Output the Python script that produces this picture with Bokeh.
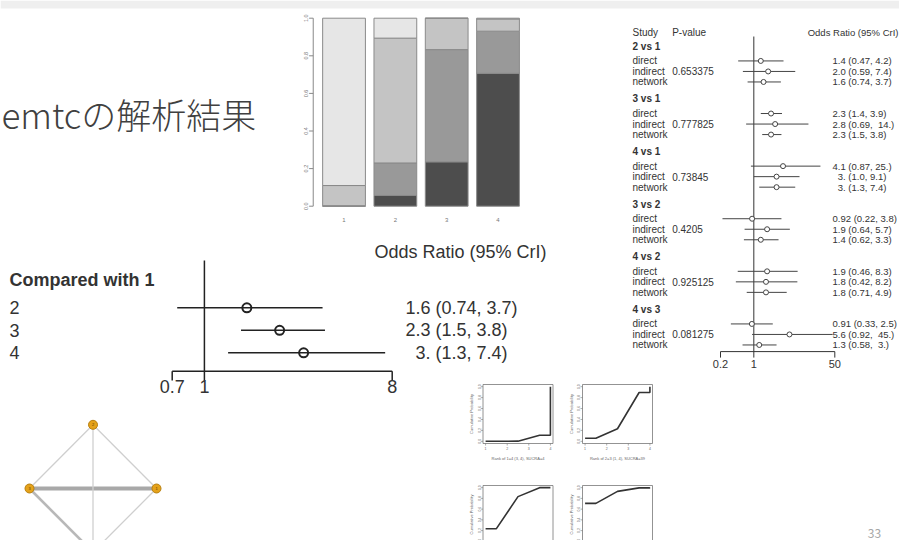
import numpy as np
from bokeh.plotting import figure
from bokeh.models import Range1d, LogScale, LinearScale, CoordinateMapping, BoxAnnotation
from bokeh.core.properties import value
from bokeh.embed import file_html
from bokeh.resources import INLINE

# ---------------- data ----------------
title_text = "emtcの解析結果"
page_number = "33"

# rank probabilities per treatment (rows = rank 1..4)
treatments = ["1", "2", "3", "4"]
rank_prob_1 = [0.000, 0.057, 0.236, 0.707]
rank_prob_2 = [0.003, 0.173, 0.597, 0.224]
rank_prob_3 = [0.107, 0.664, 0.167, 0.065]
rank_prob_4 = [0.890, 0.106, 0.000, 0.004]
rank_colors = ["#4d4d4d", "#999999", "#c4c4c4", "#e6e6e6"]
bar_yticks = [0.0, 0.2, 0.4, 0.6, 0.8, 1.0]

# cumulative rank plots
cum_curve_x = [1, 1.5, 2.5, 3.5, 4, 4]
cum_xticks = [1, 2, 3, 4]
cum_yticks = [0.0, 0.2, 0.4, 0.6, 0.8, 1.0]
cum_titles = ["Rank of 1=4 (3, 4), SUCRA=4", "Rank of 2=3 (1, 4), SUCRA=39",
              "Rank of 3=2 (1, 3), SUCRA=69", "Rank of 4=1 (1, 3), SUCRA=88"]

# node-splitting forest plot
comparisons = ["2 vs 1", "3 vs 1", "4 vs 1", "3 vs 2", "4 vs 2", "4 vs 3"]
evidence = ["direct", "indirect", "network"]
p_values = ["0.653375", "0.777825", "0.73845", "0.4205", "0.925125", "0.081275"]
ns_est = [[1.4, 2.0, 1.6], [2.3, 2.8, 2.3], [4.1, 3.0, 3.0],
          [0.92, 1.9, 1.4], [1.9, 1.8, 1.8], [0.91, 5.6, 1.3]]
ns_lo = [[0.47, 0.59, 0.74], [1.4, 0.69, 1.5], [0.87, 1.0, 1.3],
         [0.22, 0.64, 0.62], [0.46, 0.42, 0.71], [0.33, 0.92, 0.58]]
ns_hi = [[4.2, 7.4, 3.7], [3.9, 14.0, 3.8], [25.0, 9.1, 7.4],
         [3.8, 5.7, 3.3], [8.3, 8.2, 4.9], [2.5, 45.0, 3.0]]
ns_text = [["1.4 (0.47, 4.2)", "2.0 (0.59, 7.4)", "1.6 (0.74, 3.7)"],
           ["2.3 (1.4, 3.9)", "2.8 (0.69,  14.)", "2.3 (1.5, 3.8)"],
           ["4.1 (0.87, 25.)", " 3. (1.0, 9.1)", " 3. (1.3, 7.4)"],
           ["0.92 (0.22, 3.8)", "1.9 (0.64, 5.7)", "1.4 (0.62, 3.3)"],
           ["1.9 (0.46, 8.3)", "1.8 (0.42, 8.2)", "1.8 (0.71, 4.9)"],
           ["0.91 (0.33, 2.5)", "5.6 (0.92,  45.)", "1.3 (0.58,  3.)"]]
ns_ticks = [0.2, 1, 50]

# "compared with 1" forest plot
cmp_labels = ["2", "3", "4"]
cmp_est = [1.6, 2.3, 3.0]
cmp_lo = [0.74, 1.5, 1.3]
cmp_hi = [3.7, 3.8, 7.4]
cmp_text = ["1.6 (0.74, 3.7)", "2.3 (1.5, 3.8)", " 3. (1.3, 7.4)"]
cmp_ticks = [0.7, 1, 8]

# network
net_nodes = ["1", "2", "3", "4"]
edge_a = ["1", "1", "1", "2", "2", "3"]
edge_b = ["2", "3", "4", "3", "4", "4"]
edge_n = [1, 3, 1, 1, 1, 2]

# ---------------- figure ----------------
p = figure(width=899, height=540, x_range=Range1d(0, 899), y_range=Range1d(540, 0),
           output_backend="svg", toolbar_location=None, min_border=0,
           x_axis_location=None, y_axis_location=None)
p.grid.visible = False
p.outline_line_color = None
p.background_fill_color = "white"
p.add_layout(BoxAnnotation(top=0, bottom=8, fill_color="#efefef", fill_alpha=1, line_color=None))

ARIAL = value("Liberation Sans")


def fix(s):
    s = s.replace("  ", " \u00a0")
    if s.startswith(" "):
        s = "\u2007" + s[1:]
    return s


class Sub:
    def __init__(self, xs, xt, ys, yt, xlog=False):
        self.cm = CoordinateMapping(
            x_source=Range1d(*xs), x_target=Range1d(*xt),
            y_source=Range1d(*ys), y_target=Range1d(*yt),
            x_scale=LogScale() if xlog else LinearScale(), y_scale=LinearScale())

    def __getattr__(self, name):
        fn = getattr(p, name)

        def call(*a, **k):
            r = fn(*a, **k)
            r.coordinates = self.cm
            return r
        return call


# title
p.text(x=[1], y=[113], text=[title_text], text_font=value("Noto Sans CJK JP Light, Noto Sans CJK JP"),
       text_font_size="35px", text_color="#404040", text_baseline="middle")

# page number
p.text(x=[874], y=[533], text=[page_number], text_font=value("Noto Sans CJK JP"),
       text_font_size="12px", text_color="#a6a6a6", text_align="center", text_baseline="middle")

# ---------------- stacked bar chart ----------------
bars = Sub((0, 5), (292.2, 548.85), (0, 1), (205.7, 17.7))
probs_by_rank = [rank_prob_1, rank_prob_2, rank_prob_3, rank_prob_4]
bx, bb, bt, bc = [], [], [], []
for ti in range(len(treatments)):
    base = 0.0
    for r in range(4):
        v = probs_by_rank[r][ti]
        bx.append(ti + 1); bb.append(base); bt.append(base + v); bc.append(rank_colors[r])
        base += v
bars.vbar(x=bx, width=0.833, bottom=bb, top=bt, fill_color=bc, line_color="#8a8a8a", line_width=1)
bars.segment(x0=[0.40], y0=[0], x1=[0.40], y1=[1], line_color="#888888", line_width=1)
bars.segment(x0=[0.40] * len(bar_yticks), y0=bar_yticks, x1=[0.32] * len(bar_yticks), y1=bar_yticks,
             line_color="#888888", line_width=1)
bars.text(x=[0.26] * len(bar_yticks), y=bar_yticks, text=[f"{t:.1f}" for t in bar_yticks],
          angle=np.pi / 2, text_align="center", text_baseline="middle",
          text_font=ARIAL, text_font_size="5.5px", text_color="#777777")
bars.text(x=[1, 2, 3, 4], y=[-0.071] * 4, text=treatments, text_align="center", text_baseline="middle",
          text_font=ARIAL, text_font_size="6px", text_color="#777777")

# ---------------- node-splitting forest plot ----------------
rows_y = (0, 30)
rows_t = (45.7, 361.3)
rf = Sub((0.2, 50), (720, 834.3), rows_y, rows_t, xlog=True)
rt = Sub((0, 1000), (0, 1000), rows_y, rows_t)
ev_off = [1.4, 2.4, 3.4]
hdr_y = [5 * g for g in range(len(comparisons))]
pt_x, pt_y, lo, hi, lab_y, ev_t, ort = [], [], [], [], [], [], []
for g in range(len(comparisons)):
    for e in range(3):
        y = 5 * g + ev_off[e]
        pt_x.append(ns_est[g][e]); pt_y.append(y)
        lo.append(ns_lo[g][e]); hi.append(ns_hi[g][e])
        ev_t.append(evidence[e]); lab_y.append(y); ort.append(fix(ns_text[g][e]))
axis_y = 29.03
rf.segment(x0=[1], y0=[-0.92], x1=[1], y1=[axis_y], line_color="#333333", line_width=1)
rf.segment(x0=lo, y0=pt_y, x1=hi, y1=pt_y, line_color="#444444", line_width=1)
rf.scatter(x=pt_x, y=pt_y, marker="circle", size=5, fill_color="white", line_color="#444444", line_width=1)
rf.segment(x0=[ns_ticks[0]], y0=[axis_y], x1=[ns_ticks[-1]], y1=[axis_y], line_color="#333333", line_width=1)
rf.segment(x0=ns_ticks, y0=[axis_y] * 3, x1=ns_ticks, y1=[29.6] * 3, line_color="#333333", line_width=1)
rf.text(x=ns_ticks, y=[30.25] * 3, text=["0.2", "1", "50"], text_align="center", text_baseline="middle",
        text_font=ARIAL, text_font_size="11px", text_color="#333333")
common = dict(text_font=ARIAL, text_font_size="10px", text_color="#333333", text_baseline="middle")
rt.text(x=[632, 671.7], y=[-1.33] * 2, text=["Study", "P-value"], **common)
rt.text(x=[898], y=[-1.33], text=["Odds Ratio (95% CrI)"], text_align="right",
        text_font=ARIAL, text_font_size="9.5px", text_color="#333333", text_baseline="middle")
rt.text(x=[632] * len(comparisons), y=hdr_y, text=comparisons, text_font_style="bold", **common)
rt.text(x=[632] * len(ev_t), y=lab_y, text=ev_t, **common)
rt.text(x=[671.7] * len(p_values), y=[5 * g + ev_off[1] for g in range(len(comparisons))], text=p_values, **common)
rt.text(x=[832] * len(ort), y=lab_y, text=ort, text_font=ARIAL, text_font_size="9.5px",
        text_color="#333333", text_baseline="middle")

# ---------------- compared with 1 forest ----------------
mf = Sub((0.7, 8), (171.7, 391.7), (0, 4), (284.8, 374.8), xlog=True)
mt = Sub((0, 1000), (0, 1000), (0, 4), (284.8, 374.8))
rows = [1, 2, 3]
m_axis = 3.82
mf.segment(x0=[1], y0=[-1.1], x1=[1], y1=[m_axis], line_color="#222222", line_width=1.5)
mf.segment(x0=cmp_lo, y0=rows, x1=cmp_hi, y1=rows, line_color="#222222", line_width=1.5)
mf.scatter(x=cmp_est, y=rows, marker="circle", size=9, fill_color=None, line_color="#222222", line_width=2)
mf.segment(x0=[cmp_ticks[0]], y0=[m_axis], x1=[cmp_ticks[-1]], y1=[m_axis], line_color="#222222", line_width=1.5)
mf.segment(x0=cmp_ticks, y0=[m_axis] * 3, x1=cmp_ticks, y1=[4.23] * 3, line_color="#222222", line_width=1.5)
big = dict(text_font=ARIAL, text_font_size="18px", text_color="#333333", text_baseline="middle")
mf.text(x=cmp_ticks, y=[4.48] * 3, text=["0.7", "1", "8"], text_align="center", **big)
mt.text(x=[9], y=[-0.24], text=["Compared with 1"], text_font_style="bold", **big)
mt.text(x=[9] * 3, y=rows, text=cmp_labels, **big)
mt.text(x=[405] * 3, y=rows, text=[fix(t) for t in cmp_text], **big)
mt.text(x=[374], y=[-1.47], text=["Odds Ratio (95% CrI)"], **big)

# ---------------- network plot ----------------
net = Sub((-1, 1), (29, 156), (-1, 1), (551.7, 424.3))
ang = {n: 2 * np.pi * i / len(net_nodes) for i, n in enumerate(net_nodes)}
nx = {n: np.cos(a) for n, a in ang.items()}
ny = {n: np.sin(a) for n, a in ang.items()}
edge_col = {1: "#cfcfcf", 2: "#b8b8b8", 3: "#a8a8a8"}
net.segment(x0=[nx[a] for a in edge_a], y0=[ny[a] for a in edge_a],
            x1=[nx[b] for b in edge_b], y1=[ny[b] for b in edge_b],
            line_width=[1.3 * n for n in edge_n], line_color=[edge_col[n] for n in edge_n])
net.scatter(x=[nx[n] for n in net_nodes], y=[ny[n] for n in net_nodes], marker="circle", size=9,
            fill_color="#e5a21a", line_color="#b88010", line_width=1)
net.text(x=[nx[n] for n in net_nodes], y=[ny[n] for n in net_nodes], text=net_nodes,
         text_align="center", text_baseline="middle", text_font=ARIAL, text_font_size="4px",
         text_color="#5a3a00")

# ---------------- cumulative rank plots ----------------
boxes = [(482.5, 552.5, 384, 443), (582, 652, 384, 443), (482.5, 552.5, 485, 543), (582, 652, 485, 543)]
small = dict(text_font=ARIAL, text_color="#666666", text_align="center", text_baseline="middle")
for ti, (x0, x1, y0, y1) in enumerate(boxes):
    cp = Sub((0.88, 4.12), (x0, x1), (-0.04, 1.04), (y1, y0))
    c = np.cumsum([probs_by_rank[r][ti] for r in range(4)])
    cy = [c[0], c[0], c[1], c[2], c[2], c[3]]
    cp.quad(left=[0.88], right=[4.12], bottom=[-0.04], top=[1.04], fill_color=None,
            line_color="#777777", line_width=0.8)
    cp.line(x=cum_curve_x, y=cy, line_color="#333333", line_width=1.6)
    cp.segment(x0=[0.88] * 6, y0=cum_yticks, x1=[0.79] * 6, y1=cum_yticks, line_color="#777777", line_width=0.6)
    cp.text(x=[0.70] * 6, y=cum_yticks, text=[f"{t:.1f}" for t in cum_yticks], angle=np.pi / 2,
            text_font_size="3.5px", **small)
    cp.segment(x0=cum_xticks, y0=[-0.04] * 4, x1=cum_xticks, y1=[-0.077] * 4, line_color="#777777", line_width=0.6)
    cp.text(x=cum_xticks, y=[-0.137] * 4, text=[str(t) for t in cum_xticks], text_font_size="3.5px", **small)
    cp.text(x=[0.37], y=[0.5], text=["Cumulative Probability"], angle=np.pi / 2, text_font_size="4px", **small)
    cp.text(x=[2.5], y=[-0.315], text=[cum_titles[ti]], text_font_size="4px", **small)

open("out.html", "w").write(file_html(p, INLINE))
